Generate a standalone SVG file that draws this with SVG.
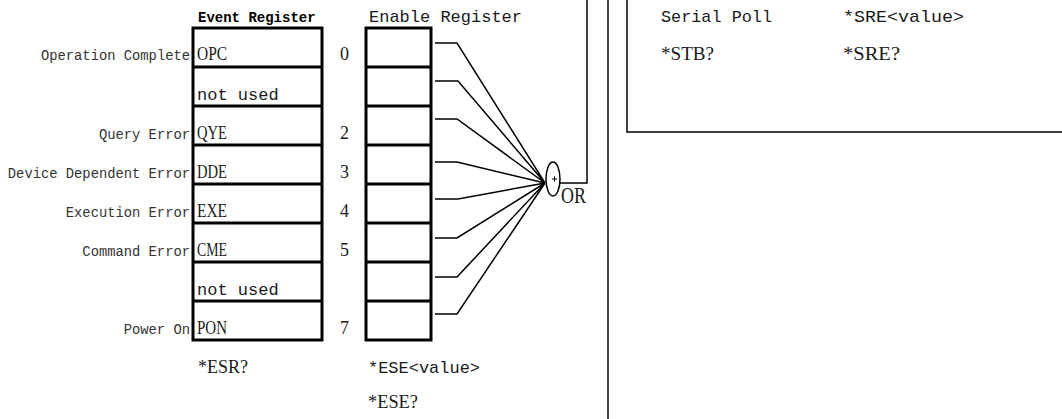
<svg xmlns="http://www.w3.org/2000/svg" width="1062" height="419" viewBox="0 0 1062 419">
<style>
text{font-family:"Liberation Mono","DejaVu Sans Mono",monospace;fill:#1a1a1a;}
.m{font-size:17px;}
.sf{font-family:"Liberation Serif","DejaVu Serif",serif;font-size:18px;}
.s{font-size:13.8px;fill:#333;}
.t{font-size:14px;font-weight:bold;fill:#000;}
.or{font-family:"Liberation Serif","DejaVu Serif",serif;font-size:24px;}
.box{fill:#fff;stroke:#000;stroke-width:3;}
.ln{fill:none;stroke:#000;stroke-width:1.5;}
</style>
<rect width="1062" height="419" fill="#fff"/>
<g id="event-register">
<text class="t" x="198" y="22">Event Register</text>
<rect class="box" x="193" y="28" width="129" height="312"/>
<path class="box" d="M193 67H322M193 106H322M193 145H322M193 184H322M193 223H322M193 262H322M193 301H322"/>
<text class="sf" x="197" y="60" textLength="30" lengthAdjust="spacingAndGlyphs">OPC</text>
<text class="m" x="197" y="100">not used</text>
<text class="sf" x="197" y="139" textLength="30" lengthAdjust="spacingAndGlyphs">QYE</text>
<text class="sf" x="197" y="178" textLength="30" lengthAdjust="spacingAndGlyphs">DDE</text>
<text class="sf" x="197" y="217" textLength="30" lengthAdjust="spacingAndGlyphs">EXE</text>
<text class="sf" x="197" y="256" textLength="30" lengthAdjust="spacingAndGlyphs">CME</text>
<text class="m" x="197" y="295">not used</text>
<text class="sf" x="197" y="334" textLength="30" lengthAdjust="spacingAndGlyphs">PON</text>
<text class="s" x="190" y="60" text-anchor="end">Operation Complete</text>
<text class="s" x="190" y="139" text-anchor="end">Query Error</text>
<text class="s" x="190" y="178" text-anchor="end">Device Dependent Error</text>
<text class="s" x="190" y="217" text-anchor="end">Execution Error</text>
<text class="s" x="190" y="256" text-anchor="end">Command Error</text>
<text class="s" x="190" y="334" text-anchor="end">Power On</text>
<text class="sf" x="340" y="60">0</text>
<text class="sf" x="340" y="139">2</text>
<text class="sf" x="340" y="178">3</text>
<text class="sf" x="340" y="217">4</text>
<text class="sf" x="340" y="256">5</text>
<text class="sf" x="340" y="334">7</text>
<text class="sf" x="198" y="373" textLength="50" lengthAdjust="spacingAndGlyphs">*ESR?</text>
</g>
<g id="enable-register">
<text class="m" x="369" y="22" textLength="153" lengthAdjust="spacingAndGlyphs">Enable Register</text>
<rect class="box" x="366" y="28" width="65" height="312"/>
<path class="box" d="M366 67H431M366 106H431M366 145H431M366 184H431M366 223H431M366 262H431M366 301H431"/>
<text class="m" x="368" y="373" textLength="112" lengthAdjust="spacingAndGlyphs">*ESE&lt;value&gt;</text>
<text class="sf" x="368" y="408" textLength="50" lengthAdjust="spacingAndGlyphs">*ESE?</text>
</g>
<g id="or-gate">
<ellipse cx="553" cy="179" rx="7" ry="17" fill="#fff" stroke="#000" stroke-width="1.5"/>
<path d="M552 179h5M554.5 176.5v5" stroke="#000" stroke-width="1"/>
<text class="or" x="561" y="203" textLength="25" lengthAdjust="spacingAndGlyphs">OR</text>
</g>
<g id="status-panel">
<path class="ln" d="M627 0V132H1062"/>
<text class="m" x="661" y="22" textLength="111" lengthAdjust="spacingAndGlyphs">Serial Poll</text>
<text class="m" x="843" y="22" textLength="121" lengthAdjust="spacingAndGlyphs">*SRE&lt;value&gt;</text>
<text class="sf" x="661" y="60" textLength="53" lengthAdjust="spacingAndGlyphs">*STB?</text>
<text class="sf" x="843" y="60" textLength="57" lengthAdjust="spacingAndGlyphs">*SRE?</text>
</g>
<g id="connectors">
<path class="ln" d="M435 43H457L545 183M435 81H458L545 183M435 119H457L545 183M435 162H457L545 183M435 199H458L545 183M435 238H457L545 183M435 277H457L545 183M435 314H457L545 183"/>
<path class="ln" d="M560 183H587V0"/>
<path class="ln" d="M608 0V419"/>
</g>
</svg>
